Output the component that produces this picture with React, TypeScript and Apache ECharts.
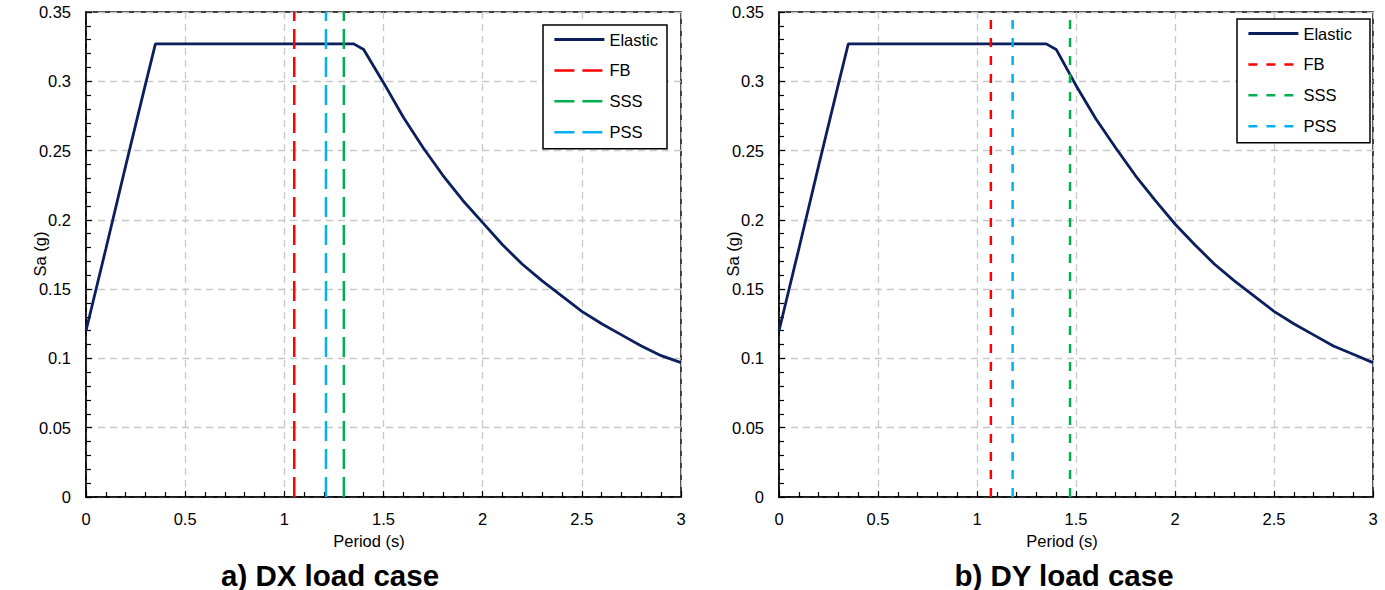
import React, { useEffect, useRef } from 'react';
import * as echarts from 'echarts';

// Elastic spectrum (period in s, Sa in g)
const periods = [0, 0.1, 0.2, 0.3, 0.35, 1.35, 1.4, 1.5, 1.6, 1.7, 1.8, 1.9, 2.0, 2.1, 2.2, 2.3, 2.4, 2.5, 2.6, 2.7, 2.8, 2.9, 3.0];
const saDX = [0.12, 0.179, 0.239, 0.298, 0.327, 0.327, 0.323, 0.299, 0.274, 0.252, 0.232, 0.214, 0.198, 0.182, 0.168, 0.156, 0.145, 0.134, 0.125, 0.117, 0.109, 0.102, 0.097];
const saDY = [0.12, 0.179, 0.239, 0.298, 0.327, 0.327, 0.323, 0.297, 0.273, 0.252, 0.232, 0.214, 0.197, 0.182, 0.168, 0.156, 0.145, 0.134, 0.125, 0.117, 0.109, 0.103, 0.097];

// Fundamental periods of the models: FB, SSS, PSS
const modelNames = ['FB', 'SSS', 'PSS'];
const modelColors = ['#ff0000', '#00b050', '#00b0f0'];
const modelPeriodsDX = [1.05, 1.30, 1.21];
const modelPeriodsDY = [1.07, 1.47, 1.18];

const panelTitles = ['a) DX load case', 'b) DY load case'];
const xAxisTitle = 'Period (s)';
const yAxisTitle = 'Sa (g)';

const X_MIN = 0, X_MAX = 3, X_INT = 0.5;
const Y_MIN = 0, Y_MAX = 0.35, Y_INT = 0.05;

const FONT = "'Liberation Sans', Arial, sans-serif";
const ELASTIC_COLOR = '#0b1f5c';

export default function App() {
  const ref = useRef<HTMLDivElement>(null);
  useEffect(() => {
    if (!ref.current) return;
    const chart = echarts.init(ref.current, undefined, { renderer: 'svg' });

    const grids = [
      { left: 86, top: 12, width: 595, height: 485 },
      { left: 779, top: 12, width: 594, height: 485 },
    ];

    const mkX = (gi: number) => ({
      type: 'value', gridIndex: gi, min: X_MIN, max: X_MAX, interval: X_INT,
      axisLine: { show: true, onZero: false, lineStyle: { color: '#000', width: 1.5 } },
      axisTick: { show: true, inside: true, length: 6, lineStyle: { color: '#000', width: 1.2 } },
      minorTick: { show: true, splitNumber: 5, length: 5, lineStyle: { color: '#000', width: 1.2 } },
      axisLabel: { color: '#000', fontSize: 16.5, fontFamily: FONT, margin: 13 },
      splitLine: { show: true, lineStyle: { color: '#c8c8c8', width: 1.3, type: [7, 5] } },
    });
    const mkY = (gi: number) => ({
      type: 'value', gridIndex: gi, min: Y_MIN, max: Y_MAX, interval: Y_INT,
      axisLine: { show: true, onZero: false, lineStyle: { color: '#000', width: 1.5 } },
      axisTick: { show: true, inside: true, length: 6, lineStyle: { color: '#000', width: 1.2 } },
      minorTick: { show: true, splitNumber: 5, length: 5, lineStyle: { color: '#000', width: 1.2 } },
      axisLabel: { color: '#000', fontSize: 16.5, fontFamily: FONT, margin: 15 },
      splitLine: { show: true, lineStyle: { color: '#c8c8c8', width: 1.3, type: [7, 5] } },
    });

    const dashes = [[20, 8], [9, 9]];
    const series: any[] = [];
    [saDX, saDY].forEach((sa, gi) => {
      series.push({
        name: 'Elastic', type: 'line', xAxisIndex: gi, yAxisIndex: gi,
        data: periods.map((p, i) => [p, sa[i]]),
        symbol: 'none', lineStyle: { color: ELASTIC_COLOR, width: 2.8 },
        itemStyle: { color: ELASTIC_COLOR }, z: 2,
      });
      const mp = gi === 0 ? modelPeriodsDX : modelPeriodsDY;
      modelNames.forEach((n, k) => {
        series.push({
          name: n, type: 'line', xAxisIndex: gi, yAxisIndex: gi,
          data: [[mp[k], Y_MIN], [mp[k], Y_MAX]],
          symbol: 'none', lineStyle: { color: modelColors[k], width: 2.5, type: dashes[gi] },
          itemStyle: { color: modelColors[k] }, z: 3,
        });
      });
    });

    const legendNames = ['Elastic', 'FB', 'SSS', 'PSS'];
    const mkLegend = (gi: number, left: number, top: number, padRight: number) => ({
      show: true, orient: 'vertical', left, top,
      itemWidth: 50, itemHeight: 14, itemGap: 13.9,
      padding: [6, padRight, 8, 10],
      borderColor: '#000', borderWidth: 1.5, backgroundColor: '#fff',
      selectedMode: false,
      textStyle: { color: '#000', fontSize: 16.5, fontFamily: FONT },
      data: legendNames.map((n) => {
        if (n === 'Elastic') return { name: n, itemStyle: { opacity: 0 }, lineStyle: { color: ELASTIC_COLOR, width: 2.8, type: 'solid' } };
        const k = modelNames.indexOf(n);
        return { name: n, itemStyle: { opacity: 0 }, lineStyle: { color: modelColors[k], width: 2.5, type: dashes[gi] } };
      }),
    });

    const txt = (text: string, x: number, y: number, size: number, bold = false, rotation = 0) => ({
      type: 'text', x, y, rotation,
      style: {
        text, fill: '#000', font: `${bold ? 'bold ' : ''}${size}px ${FONT}`,
        textAlign: 'center', textVerticalAlign: 'middle', align: 'center', verticalAlign: 'middle',
      },
    });

    chart.setOption({
      animation: false,
      backgroundColor: '#fff',
      grid: grids.map((g) => ({ ...g, show: true, borderColor: '#000', borderWidth: 1.5, backgroundColor: 'transparent' })),
      xAxis: [mkX(0), mkX(1)],
      yAxis: [mkY(0), mkY(1)],
      legend: [mkLegend(0, 543, 25, 9), mkLegend(1, 1237, 19, 18)],
      series,
      graphic: [
        txt(yAxisTitle, 40, 254, 16.5, false, Math.PI / 2),
        txt(yAxisTitle, 733, 254, 16.5, false, Math.PI / 2),
        txt(xAxisTitle, 369, 541, 16.5),
        txt(xAxisTitle, 1062, 541, 16.5),
        txt(panelTitles[0], 330, 575, 29.5, true),
        txt(panelTitles[1], 1064, 575, 29.5, true),
      ],
    });
    return () => chart.dispose();
  }, []);
  return <div ref={ref} style={{ position: 'fixed', left: 0, top: 0, width: 1385, height: 590 }} />;
}
